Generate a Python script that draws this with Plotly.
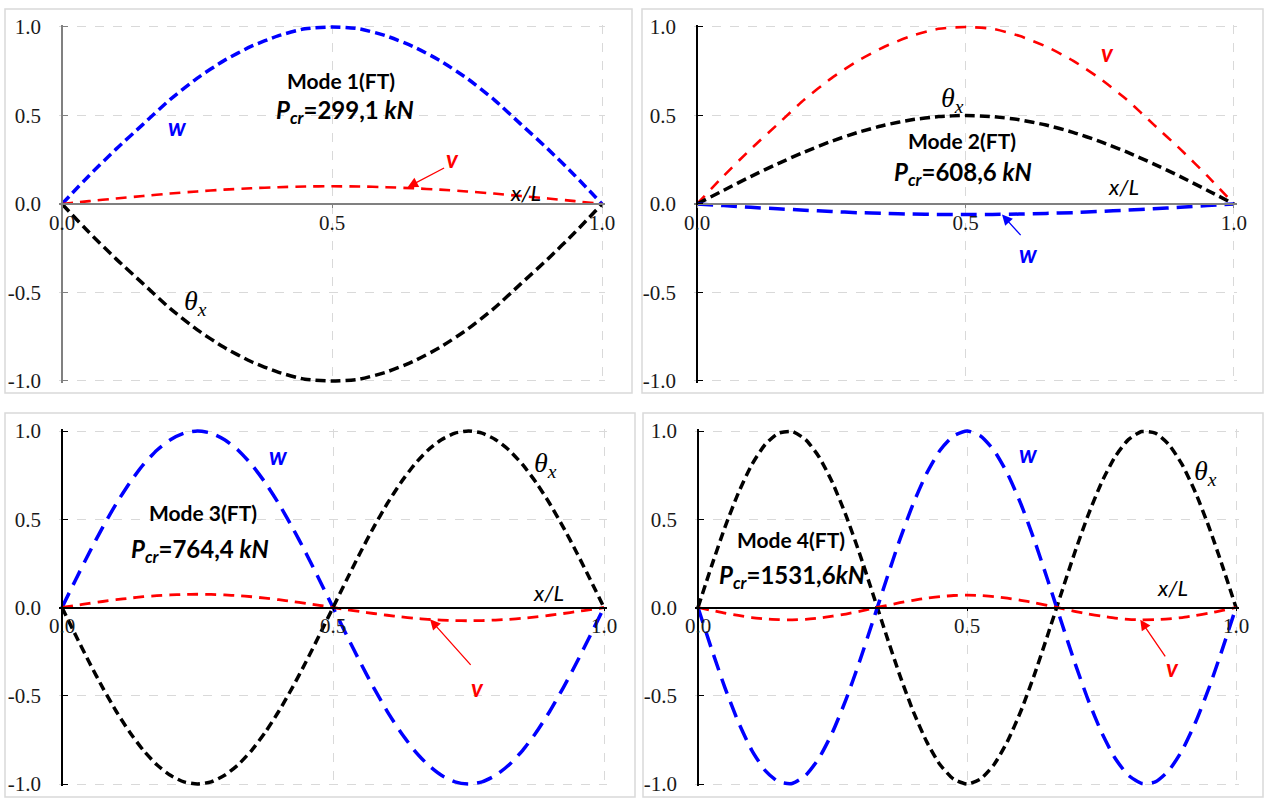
import plotly.graph_objects as go

W, H = 1271, 810

# ---------------- data ----------------
x21 = [0.00, 0.05, 0.10, 0.15, 0.20, 0.25, 0.30, 0.35, 0.40, 0.45, 0.50,
       0.55, 0.60, 0.65, 0.70, 0.75, 0.80, 0.85, 0.90, 0.95, 1.00]
x41 = [0.000, 0.025, 0.050, 0.075, 0.100, 0.125, 0.150, 0.175, 0.200, 0.225,
       0.250, 0.275, 0.300, 0.325, 0.350, 0.375, 0.400, 0.425, 0.450, 0.475,
       0.500, 0.525, 0.550, 0.575, 0.600, 0.625, 0.650, 0.675, 0.700, 0.725,
       0.750, 0.775, 0.800, 0.825, 0.850, 0.875, 0.900, 0.925, 0.950, 0.975, 1.000]

# Mode 1
m1_w = [0, 0.16, 0.31, 0.45, 0.59, 0.71, 0.81, 0.89, 0.95, 0.99, 1.00,
        0.99, 0.95, 0.89, 0.81, 0.71, 0.59, 0.45, 0.31, 0.16, 0]
m1_v = [0, 0.016, 0.031, 0.045, 0.059, 0.071, 0.081, 0.089, 0.095, 0.099, 0.100,
        0.099, 0.095, 0.089, 0.081, 0.071, 0.059, 0.045, 0.031, 0.016, 0]
m1_t = [0, -0.16, -0.31, -0.45, -0.59, -0.71, -0.81, -0.89, -0.95, -0.99, -1.00,
        -0.99, -0.95, -0.89, -0.81, -0.71, -0.59, -0.45, -0.31, -0.16, 0]

# Mode 2
m2_v = [0, 0.16, 0.31, 0.45, 0.59, 0.71, 0.81, 0.89, 0.95, 0.99, 1.00,
        0.99, 0.95, 0.89, 0.81, 0.71, 0.59, 0.45, 0.31, 0.16, 0]
m2_t = [0, 0.078, 0.155, 0.227, 0.294, 0.354, 0.405, 0.446, 0.476, 0.494, 0.500,
        0.494, 0.476, 0.446, 0.405, 0.354, 0.294, 0.227, 0.155, 0.078, 0]
m2_w = [0, -0.009, -0.019, -0.027, -0.035, -0.042, -0.049, -0.053, -0.057, -0.059, -0.060,
        -0.059, -0.057, -0.053, -0.049, -0.042, -0.035, -0.027, -0.019, -0.009, 0]

# Mode 3
m3_w = [0, 0.156, 0.309, 0.454, 0.588, 0.707, 0.809, 0.891, 0.951, 0.988, 1.000,
        0.988, 0.951, 0.891, 0.809, 0.707, 0.588, 0.454, 0.309, 0.156, 0,
        -0.156, -0.309, -0.454, -0.588, -0.707, -0.809, -0.891, -0.951, -0.988, -1.000,
        -0.988, -0.951, -0.891, -0.809, -0.707, -0.588, -0.454, -0.309, -0.156, 0]
m3_t = [0, -0.156, -0.309, -0.454, -0.588, -0.707, -0.809, -0.891, -0.951, -0.988, -1.000,
        -0.988, -0.951, -0.891, -0.809, -0.707, -0.588, -0.454, -0.309, -0.156, 0,
        0.156, 0.309, 0.454, 0.588, 0.707, 0.809, 0.891, 0.951, 0.988, 1.000,
        0.988, 0.951, 0.891, 0.809, 0.707, 0.588, 0.454, 0.309, 0.156, 0]
m3_v = [0, 0.012, 0.023, 0.034, 0.044, 0.053, 0.061, 0.067, 0.071, 0.074, 0.075,
        0.074, 0.071, 0.067, 0.061, 0.053, 0.044, 0.034, 0.023, 0.012, 0,
        -0.012, -0.023, -0.034, -0.044, -0.053, -0.061, -0.067, -0.071, -0.074, -0.075,
        -0.074, -0.071, -0.067, -0.061, -0.053, -0.044, -0.034, -0.023, -0.012, 0]

# Mode 4
m4_t = [0, 0.233, 0.454, 0.649, 0.809, 0.924, 0.988, 0.997, 0.951, 0.853, 0.707,
        0.522, 0.309, 0.078, -0.156, -0.383, -0.588, -0.760, -0.891, -0.972, -1.000,
        -0.972, -0.891, -0.760, -0.588, -0.383, -0.156, 0.078, 0.309, 0.522, 0.707,
        0.853, 0.951, 0.997, 0.988, 0.924, 0.809, 0.649, 0.454, 0.233, 0]
m4_w = [0, -0.233, -0.454, -0.649, -0.809, -0.924, -0.988, -0.997, -0.951, -0.853, -0.707,
        -0.522, -0.309, -0.078, 0.156, 0.383, 0.588, 0.760, 0.891, 0.972, 1.000,
        0.972, 0.891, 0.760, 0.588, 0.383, 0.156, -0.078, -0.309, -0.522, -0.707,
        -0.853, -0.951, -0.997, -0.988, -0.924, -0.809, -0.649, -0.454, -0.233, 0]
m4_v = [0, -0.016, -0.032, -0.045, -0.057, -0.065, -0.069, -0.070, -0.067, -0.060, -0.049,
        -0.037, -0.022, -0.005, 0.011, 0.027, 0.041, 0.053, 0.062, 0.068, 0.070,
        0.068, 0.062, 0.053, 0.041, 0.027, 0.011, -0.005, -0.022, -0.037, -0.049,
        -0.060, -0.067, -0.070, -0.069, -0.065, -0.057, -0.045, -0.032, -0.016, 0]

x_ticks = [0, 0.5, 1.0]
x_ticktext = ["0.0", "0.5", "1.0"]
y_ticks = [-1.0, -0.5, 0.0, 0.5, 1.0]
y_ticktext = ["-1.0", "-0.5", "0.0", "0.5", "1.0"]

mode_titles = ["Mode 1(FT)", "Mode 2(FT)", "Mode 3(FT)", "Mode 4(FT)"]
pcr_texts = ["=299,1 ", "=608,6 ", "=764,4 ", "=1531,6"]

# ---------------- styles ----------------
BLUE, RED, BLACK = "#0000FF", "#FF0000", "#000000"
SANS = "Lato, 'Noto Sans', sans-serif"
SERIF = "'Liberation Serif', 'DejaVu Serif', serif"
XPAD, YPAD = 0.005, 0.012

# panel pixel geometry: data x=0, x=1 ; data y=1, y=-1
panels = [
    dict(x0=62, x1=602, yt=27, yb=381, box=(5, 9, 632, 393), axc=("#808080", "#808080")),
    dict(x0=697, x1=1234, yt=27, yb=381, box=(642, 9, 1263, 393), axc=("#808080", "#000000")),
    dict(x0=62, x1=604, yt=431, yb=784, box=(5, 413, 635, 797), axc=("#000000", "#000000")),
    dict(x0=698, x1=1236, yt=431, yb=784, box=(643, 413, 1263, 797), axc=("#000000", "#000000")),
]

series = [
    [(x21, m1_w, BLUE, 3.5, "10px,5px"), (x21, m1_v, RED, 2.6, "11px,7px"), (x21, m1_t, BLACK, 3.5, "10px,5px")],
    [(x21, m2_v, RED, 2.6, "11px,9px"), (x21, m2_t, BLACK, 3.5, "10px,5px"), (x21, m2_w, BLUE, 3.5, "16px,8px")],
    [(x41, m3_w, BLUE, 3.5, "16px,9px"), (x41, m3_v, RED, 2.8, "11px,7px"), (x41, m3_t, BLACK, 3.5, "9px,5px")],
    [(x41, m4_t, BLACK, 3.5, "9px,5px"), (x41, m4_w, BLUE, 3.5, "16px,9px"), (x41, m4_v, RED, 2.8, "11px,7px")],
]

def px2paper(px, py):
    return px / W, 1 - py / H

fig = go.Figure()
layout = dict(
    template="none",
    width=W, height=H, margin=dict(l=0, r=0, t=0, b=0, pad=0, autoexpand=False),
    paper_bgcolor="white", plot_bgcolor="white", showlegend=False,
    font=dict(family=SANS, color=BLACK),
)
shapes, annotations = [], []

for i, p in enumerate(panels):
    n = i + 1
    xs = "" if n == 1 else str(n)
    ux = (p["x1"] - p["x0"])
    uy = (p["yb"] - p["yt"]) / 2.0
    dx0 = (p["x0"] - XPAD * ux) / W
    dx1 = (p["x1"] + XPAD * ux) / W
    dy1 = 1 - (p["yt"] - YPAD * uy) / H
    dy0 = 1 - (p["yb"] + YPAD * uy) / H
    xzero_paper = p["x0"] / W
    yzero_paper = 1 - ((p["yt"] + p["yb"]) / 2.0) / H
    xc, yc = p["axc"]
    layout["xaxis" + xs] = dict(
        domain=[dx0, dx1], range=[-XPAD, 1 + XPAD], anchor="free", position=yzero_paper,
        tickvals=x_ticks, ticktext=x_ticktext, showgrid=True, gridcolor="#d9d9d9",
        griddash="dash", gridwidth=1, zeroline=False, showline=True, linecolor=xc,
        linewidth=1.5, ticks="outside", ticklen=3, tickcolor=xc, ticklabelstandoff=-3,
        tickfont=dict(family=SERIF, size=21, color="#1a1a1a"), fixedrange=True,
        automargin=False,
    )
    layout["yaxis" + xs] = dict(
        domain=[dy0, dy1], range=[-1 - YPAD, 1 + YPAD], anchor="free", position=xzero_paper,
        tickvals=y_ticks, ticktext=y_ticktext, showgrid=True, gridcolor="#d9d9d9",
        griddash="dash", gridwidth=1, zeroline=False, showline=True, linecolor=yc,
        linewidth=1.5, ticks="inside", ticklen=5, tickcolor=yc, ticklabelstandoff=16,
        tickfont=dict(family=SERIF, size=21, color="#1a1a1a"), fixedrange=True,
        automargin=False,
    )
    for (xx, yy, col, lw, dash) in series[i]:
        fig.add_trace(go.Scatter(
            x=xx, y=yy, mode="lines", xaxis="x" + xs, yaxis="y" + xs,
            line=dict(color=col, width=lw, dash=dash, shape="spline", smoothing=0.6),
            hoverinfo="skip",
        ))
    bx0, by0, bx1, by1 = p["box"]
    shapes.append(dict(type="rect", xref="paper", yref="paper",
                       x0=bx0 / W, x1=bx1 / W, y0=1 - by1 / H, y1=1 - by0 / H,
                       line=dict(color="#d9d9d9", width=1.5), layer="below"))

fig.update_layout(**layout)

def label(px, py, text, size, color=BLACK, family=SANS):
    x, y = px2paper(px, py)
    annotations.append(dict(x=x, y=y, xref="paper", yref="paper", text=text,
                            showarrow=False, xanchor="center", yanchor="middle",
                            font=dict(family=family, size=size, color=color)))

def arrow(xref, yref, hx, hy, ax, ay, color):
    annotations.append(dict(x=hx, y=hy, xref=xref, yref=yref, text="", showarrow=True,
                            ax=ax, ay=ay, arrowhead=2, arrowsize=1.6, arrowwidth=1.3,
                            arrowcolor=color, standoff=0))

def theta(px, py):
    label(px, py, "<i>θ</i><sub><i>x</i></sub>", 28, BLACK, SERIF)

def wlab(px, py):
    label(px, py, "<b><i>w</i></b>", 24, BLUE)

def vlab(px, py):
    label(px, py, "<b><i>v</i></b>", 24, RED)

def xl(px, py):
    label(px, py, "<i>x/L</i>", 22, BLACK)

def modelab(px, py, k):
    label(px, py, "<b>" + mode_titles[k] + "</b>", 21)

def pcrlab(px, py, k):
    txt = "<b><i>P</i><sub><i>cr</i></sub>" + pcr_texts[k] + "<i>kN</i></b>"
    label(px, py, txt, 24)

# Panel 1
modelab(341, 80, 0); pcrlab(345, 111, 0)
wlab(177, 127); vlab(453, 158); theta(195, 302); xl(525, 192)
arrow("x", "y", 0.64, 0.095, 38, -20, RED)
# Panel 2
modelab(962, 140, 1); pcrlab(963, 174, 1)
theta(952, 99); vlab(1107, 52); wlab(1028, 253); xl(1123, 187)
arrow("x2", "y2", 0.568, -0.06, 20, 22, BLUE)
# Panel 3
modelab(203, 512, 2); pcrlab(200, 550, 2)
wlab(278, 455); theta(545, 464); xl(548, 592); vlab(477, 687)
arrow("x3", "y3", 0.679, -0.067, 42, 47, RED)
# Panel 4
modelab(791, 539, 3); pcrlab(792, 576, 3)
wlab(1028, 453); theta(1205, 472); xl(1172, 587); vlab(1172, 667)
arrow("x4", "y4", 0.822, -0.07, 26, 38, RED)

fig.update_layout(shapes=shapes, annotations=annotations)
fig.write_html("out.html", config={"displayModeBar": False},
               post_script="document.body.style.margin='0px';document.body.style.overflow='hidden';")
